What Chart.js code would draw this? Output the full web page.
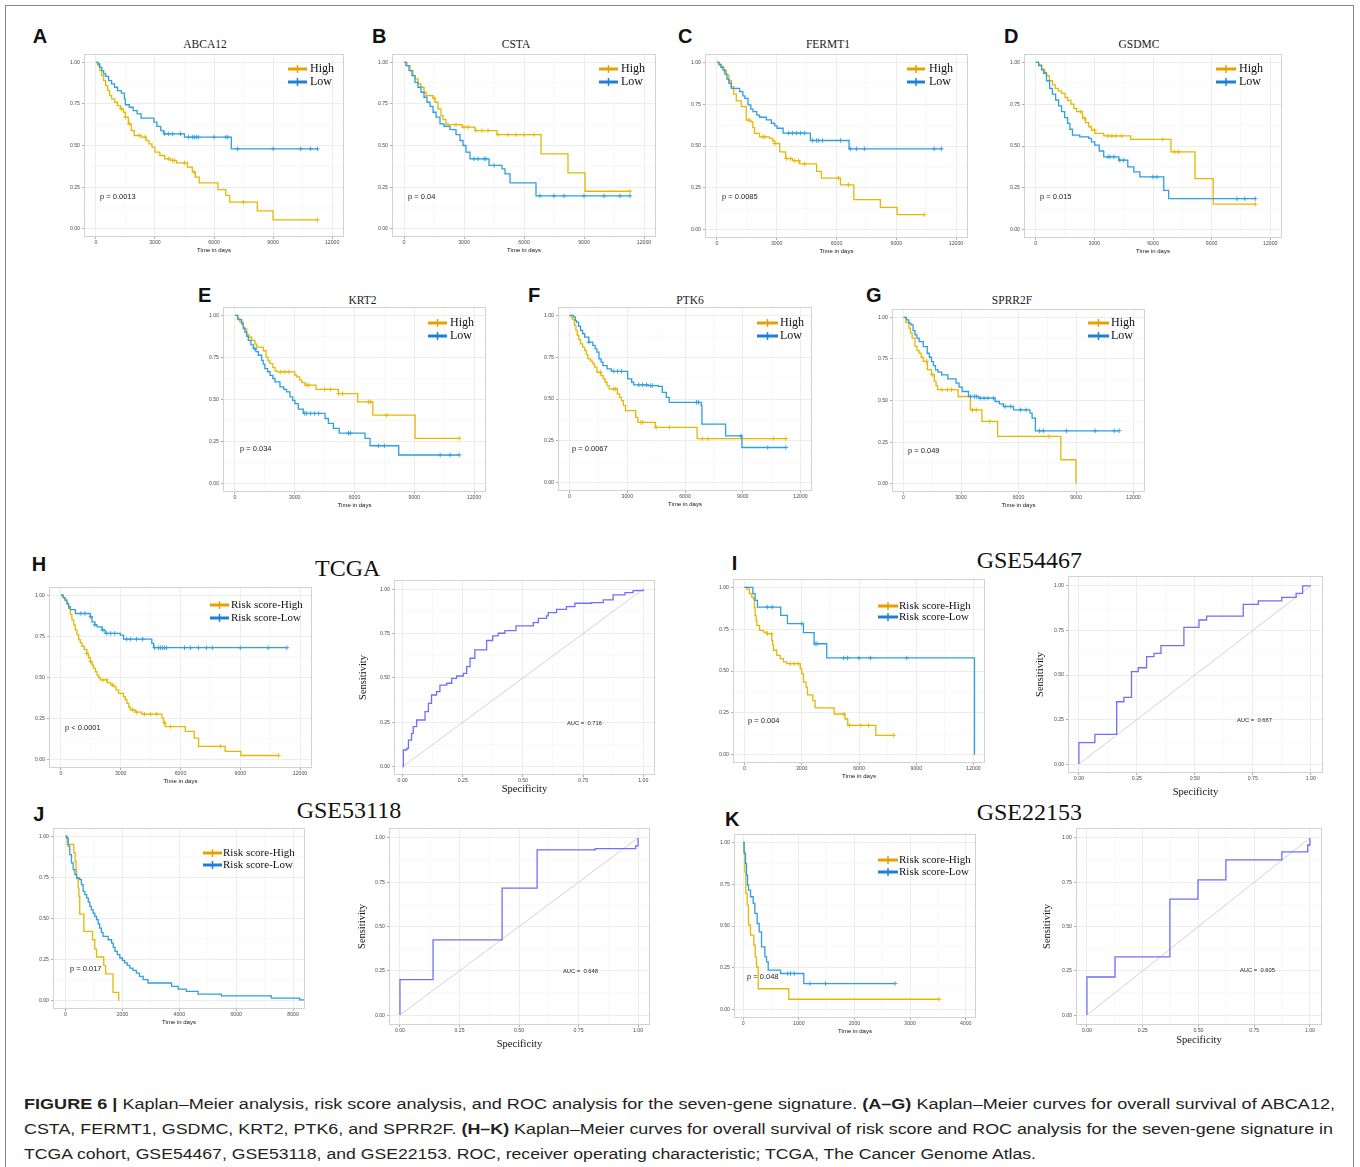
<!DOCTYPE html>
<html lang="en">
<head>
<meta charset="UTF-8">
<title>Figure 6 - Kaplan-Meier and ROC analysis</title>
<script src="https://cdn.jsdelivr.net/npm/chart.js"></script>
<style>
    body { margin: 0; background: #ffffff; }
    #fig { position: relative; width: 1360px; height: 1167px; overflow: hidden; background: #ffffff; }
    #fig canvas { position: absolute; }
    #labels { position: absolute; left: 0; top: 0; }
</style>
</head>
<body>
<div id="fig">
<svg id="labels" width="1360" height="1167" xmlns="http://www.w3.org/2000/svg">
    <rect x="5.5" y="5.5" width="1348" height="1175" fill="none" stroke="#8a8a8a" stroke-width="1"/>
    <g font-family="'Liberation Sans', Arial, sans-serif" font-weight="bold" font-size="20" fill="#111">
        <text x="32.7" y="42.7">A</text>
        <text x="372" y="42.7">B</text>
        <text x="678" y="42.7">C</text>
        <text x="1004" y="42.7">D</text>
        <text x="198" y="302">E</text>
        <text x="528" y="302">F</text>
        <text x="866" y="302">G</text>
        <text x="31.7" y="570.7">H</text>
        <text x="731.7" y="570">I</text>
        <text x="33.3" y="820.7">J</text>
        <text x="725" y="826">K</text>
    </g>
    <g font-family="'Liberation Serif', 'Times New Roman', serif" font-size="11.5" fill="#222" text-anchor="middle">
        <text x="205" y="48">ABCA12</text>
        <text x="516" y="48">CSTA</text>
        <text x="828" y="48">FERMT1</text>
        <text x="1139" y="48">GSDMC</text>
        <text x="362.5" y="304">KRT2</text>
        <text x="690" y="304">PTK6</text>
        <text x="1012" y="304">SPRR2F</text>
    </g>
    <g font-family="'Liberation Serif', 'Times New Roman', serif" font-size="24" fill="#111">
        <text x="315" y="576">TCGA</text>
        <text x="976.7" y="567.7">GSE54467</text>
        <text x="296.7" y="818.3">GSE53118</text>
        <text x="976.7" y="820">GSE22153</text>
    </g>
    <g font-family="'Liberation Sans', Arial, sans-serif" font-size="15.5" fill="#231f20">
        <text x="24" y="1108.5" textLength="1311" lengthAdjust="spacingAndGlyphs"><tspan font-weight="bold">FIGURE 6 |</tspan> Kaplan–Meier analysis, risk score analysis, and ROC analysis for the seven-gene signature. <tspan font-weight="bold">(A–G)</tspan> Kaplan–Meier curves for overall survival of ABCA12,</text>
        <text x="24" y="1133.5" textLength="1309" lengthAdjust="spacingAndGlyphs">CSTA, FERMT1, GSDMC, KRT2, PTK6, and SPRR2F. <tspan font-weight="bold">(H–K)</tspan> Kaplan–Meier curves for overall survival of risk score and ROC analysis for the seven-gene signature in</text>
        <text x="24" y="1158.5" textLength="1012" lengthAdjust="spacingAndGlyphs">TCGA cohort, GSE54467, GSE53118, and GSE22153. ROC, receiver operating characteristic; TCGA, The Cancer Genome Atlas.</text>
    </g>
</svg>
</div>

<script>
    // ---- tick labels and group names ----
    const kmTicks = [0, 3000, 6000, 9000, 12000];
    const kmTicksJ = [0, 2000, 4000, 6000, 8000];
    const kmTicksK = [0, 1000, 2000, 3000, 4000];
    const survTicks = [0, 0.25, 0.5, 0.75, 1];
    const rocTicks = [0, 0.25, 0.5, 0.75, 1];
    const geneGroups = ['High', 'Low'];
    const riskGroups = ['Risk score-High', 'Risk score-Low'];

    // ---- survival curves: [days, survival probability] ----
    const abca12High = [[0,1],[100,0.98],[200,0.95],[300,0.92],[400,0.89],[500,0.86],[600,0.83],[700,0.80],[800,0.78],[950,0.76],[1100,0.74],[1250,0.72],[1400,0.70],[1500,0.67],[1650,0.63],[1800,0.59],[1950,0.56],[2300,0.55],[2550,0.53],[2700,0.51],[2850,0.49],[3000,0.46],[3250,0.44],[3500,0.42],[3800,0.41],[4100,0.395],[4650,0.37],[4900,0.34],[5050,0.31],[5250,0.275],[6200,0.235],[6600,0.20],[6800,0.16],[8200,0.107],[9000,0.053],[11250,0.053]];
    const abca12Low = [[0,1],[100,0.99],[200,0.97],[300,0.95],[400,0.93],[500,0.915],[650,0.89],[800,0.87],[950,0.85],[1100,0.83],[1300,0.815],[1450,0.78],[1500,0.745],[1700,0.73],[1900,0.71],[2100,0.69],[2300,0.665],[2950,0.64],[3100,0.615],[3300,0.59],[3450,0.57],[4500,0.55],[6880,0.48],[11250,0.48]];
    const abca12HighCens = [1300,1500,1700,2200,2500,3700,3900,4000,4500,5000,7500,11250];
    const abca12LowCens = [3500,3700,3900,4300,4700,4900,5000,5100,5200,6000,6600,6700,7200,9000,10400,10900,11250];

    const cstaHigh = [[0,1],[150,0.98],[300,0.95],[450,0.92],[550,0.90],[700,0.87],[850,0.85],[1000,0.82],[1100,0.80],[1450,0.785],[1550,0.76],[1700,0.72],[1850,0.68],[1950,0.655],[2100,0.625],[2900,0.61],[3550,0.59],[4650,0.565],[6850,0.45],[8200,0.335],[9050,0.225],[11300,0.225]];
    const cstaLow = [[0,1],[100,0.98],[250,0.95],[400,0.92],[550,0.88],[700,0.85],[850,0.82],[1000,0.79],[1150,0.76],[1300,0.735],[1450,0.70],[1600,0.67],[1800,0.63],[2000,0.615],[2300,0.595],[2600,0.565],[2800,0.53],[2950,0.50],[3100,0.46],[3300,0.42],[4250,0.38],[4900,0.36],[5050,0.33],[5300,0.275],[6600,0.197],[11300,0.197]];
    const cstaHighCens = [1500,2200,2600,3000,3200,3600,3900,4200,4700,5200,5600,6000,6500,11300];
    const cstaLowCens = [3500,3700,4000,4100,4500,6800,7500,8000,9000,10000,10800,11300];

    const fermt1High = [[0,1],[100,0.99],[220,0.975],[350,0.95],[470,0.925],[600,0.89],[720,0.855],[840,0.81],[970,0.77],[1220,0.735],[1470,0.655],[1700,0.645],[1800,0.61],[1890,0.575],[2140,0.555],[2640,0.545],[2800,0.53],[2900,0.515],[3150,0.465],[3450,0.425],[3800,0.412],[4150,0.393],[5000,0.348],[5240,0.308],[6200,0.268],[6870,0.18],[8200,0.133],[9040,0.09],[10400,0.09]];
    const fermt1Low = [[0,1],[100,0.985],[200,0.97],[300,0.955],[400,0.93],[500,0.90],[600,0.875],[720,0.845],[1140,0.825],[1300,0.80],[1400,0.785],[1560,0.746],[1700,0.72],[1810,0.706],[2000,0.685],[2140,0.672],[2480,0.656],[2730,0.636],[2900,0.62],[3020,0.606],[3320,0.577],[4690,0.533],[6630,0.483],[11270,0.483]];
    const fermt1HighCens = [1600,2300,2400,2900,3500,3700,3900,4100,4400,6100,6600,10400];
    const fermt1LowCens = [3600,3800,4000,4200,4400,4800,5000,5100,5300,6200,6700,7000,7400,10900,11270];

    const gsdmcHigh = [[0,1],[150,0.985],[300,0.96],[450,0.94],[550,0.92],[700,0.89],[860,0.865],[1000,0.845],[1150,0.83],[1320,0.815],[1500,0.79],[1630,0.773],[1800,0.75],[1950,0.725],[2090,0.705],[2400,0.665],[2550,0.64],[2710,0.615],[2850,0.595],[3020,0.575],[3480,0.56],[4860,0.54],[6920,0.465],[8150,0.305],[9080,0.152],[11230,0.152]];
    const gsdmcLow = [[0,1],[150,0.98],[300,0.955],[400,0.935],[550,0.89],[710,0.845],[850,0.81],[1020,0.775],[1170,0.74],[1320,0.705],[1480,0.67],[1630,0.635],[1750,0.60],[1880,0.565],[2250,0.555],[2710,0.545],[2850,0.525],[3020,0.505],[3250,0.47],[3480,0.435],[4250,0.415],[4710,0.375],[5020,0.345],[5330,0.315],[6550,0.235],[6800,0.185],[11230,0.185]];
    const gsdmcHighCens = [2300,2500,3000,3700,3900,4100,4400,6500,7100,7300,11230];
    const gsdmcLowCens = [3700,3800,4000,4300,4500,6000,6200,10300,10700,11230];

    const krt2High = [[0,1],[120,0.98],[250,0.96],[420,0.92],[590,0.885],[700,0.87],[840,0.852],[1000,0.83],[1090,0.812],[1420,0.79],[1560,0.75],[1660,0.73],[1760,0.713],[1900,0.69],[2010,0.672],[2090,0.664],[3000,0.645],[3100,0.634],[3250,0.615],[3350,0.60],[3510,0.585],[4070,0.56],[5190,0.535],[6160,0.486],[6920,0.407],[9040,0.269],[11260,0.269]];
    const krt2Low = [[0,1],[150,0.975],[335,0.95],[420,0.925],[500,0.90],[590,0.875],[670,0.852],[800,0.825],[920,0.802],[1050,0.785],[1170,0.763],[1340,0.733],[1420,0.71],[1500,0.684],[1640,0.665],[1760,0.644],[1900,0.625],[2010,0.605],[2260,0.575],[2450,0.56],[2590,0.545],[2760,0.516],[2900,0.495],[3010,0.476],[3180,0.443],[3430,0.417],[4520,0.387],[4690,0.358],[4940,0.328],[5230,0.30],[6530,0.269],[6780,0.225],[8220,0.17],[11260,0.17]];
    const krt2HighCens = [2300,2500,2700,3600,3700,4500,4800,5200,5400,6700,6800,7600,11260];
    const krt2LowCens = [1000,3500,3600,3800,4000,4200,5700,5800,7200,7500,10300,10800,11260];

    const ptk6High = [[0,1],[80,0.99],[150,0.975],[255,0.94],[330,0.91],[400,0.88],[480,0.855],[570,0.83],[680,0.81],[785,0.79],[870,0.765],[955,0.74],[1100,0.725],[1210,0.71],[1300,0.69],[1420,0.66],[1635,0.64],[1750,0.62],[1850,0.60],[1950,0.58],[2060,0.56],[2485,0.53],[2600,0.51],[2700,0.49],[2800,0.46],[2910,0.43],[3440,0.39],[3550,0.36],[4460,0.33],[6630,0.263],[11240,0.263]];
    const ptk6Low = [[0,1],[210,0.99],[300,0.97],[360,0.96],[470,0.935],[570,0.91],[680,0.89],[785,0.87],[1000,0.84],[1210,0.82],[1330,0.80],[1420,0.78],[1530,0.74],[1640,0.72],[1740,0.70],[1950,0.68],[2170,0.665],[3020,0.62],[3230,0.60],[3335,0.585],[4080,0.58],[4610,0.575],[4820,0.54],[5030,0.51],[5180,0.48],[6840,0.46],[6880,0.35],[8110,0.28],[8960,0.21],[11240,0.21]];
    const ptk6HighCens = [1600,2300,2400,3700,3800,4500,5200,6900,7200,10600,11240];
    const ptk6LowCens = [1000,2300,2500,2700,3600,3800,4000,4200,4300,6600,6700,8900,10300,11240];

    const sprr2fHigh = [[0,1],[120,0.97],[280,0.935],[360,0.905],[450,0.875],[600,0.825],[700,0.80],[815,0.785],[920,0.76],[1030,0.735],[1240,0.685],[1460,0.655],[1610,0.615],[1700,0.59],[1780,0.565],[2850,0.524],[3490,0.444],[4090,0.374],[4910,0.284],[8210,0.144],[9000,0]];
    const sprr2fLow = [[0,1],[150,0.985],[280,0.965],[385,0.954],[500,0.92],[600,0.894],[700,0.875],[815,0.854],[1030,0.824],[1240,0.784],[1350,0.76],[1460,0.734],[1560,0.71],[1670,0.684],[1800,0.67],[1990,0.654],[2310,0.63],[2740,0.604],[2900,0.58],[3060,0.554],[3390,0.524],[3920,0.514],[4780,0.494],[5000,0.48],[5210,0.464],[5740,0.444],[6600,0.424],[6710,0.394],[6880,0.318],[11250,0.318]];
    const sprr2fHighCens = [1200,1500,2000,2300,2500,3600,3800,4500,7600];
    const sprr2fLowCens = [3500,3700,3800,4000,4200,4400,4700,5300,5600,6100,6400,7100,7300,8500,10000,11000,11250];

    const tcgaHigh = [[0,1],[120,0.985],[220,0.97],[300,0.945],[385,0.92],[470,0.885],[550,0.85],[640,0.82],[720,0.79],[800,0.76],[890,0.73],[970,0.71],[1050,0.69],[1170,0.67],[1300,0.646],[1380,0.62],[1470,0.596],[1560,0.575],[1640,0.556],[1730,0.535],[1810,0.515],[1890,0.50],[1970,0.485],[2310,0.469],[2500,0.455],[2640,0.444],[2760,0.425],[2890,0.404],[3140,0.384],[3230,0.365],[3310,0.343],[3400,0.32],[3480,0.303],[3730,0.289],[4060,0.277],[5070,0.253],[5150,0.225],[5230,0.202],[6240,0.172],[6690,0.131],[6910,0.081],[8240,0.051],[9030,0.026],[10920,0.026]];
    const tcgaLow = [[0,1],[100,0.985],[200,0.97],[300,0.95],[380,0.93],[470,0.913],[720,0.889],[1470,0.869],[1560,0.838],[1700,0.82],[1810,0.808],[2060,0.788],[2220,0.768],[2980,0.758],[3140,0.733],[4560,0.707],[4650,0.681],[11340,0.681]];
    const tcgaHighCens = [1300,1500,2100,2300,2600,3600,3800,4200,4500,4800,5200,5500,8000,10920];
    const tcgaLowCens = [1000,1200,1500,1700,2100,2300,2500,2700,3300,3500,3800,4100,4700,4900,5000,5100,5200,5300,6200,6500,6900,7300,7600,9000,10400,11340];

    const gse54467High = [[0,1],[120,0.99],[260,0.962],[385,0.942],[470,0.932],[520,0.88],[560,0.833],[610,0.80],[650,0.773],[790,0.743],[1000,0.733],[1170,0.723],[1430,0.683],[1480,0.655],[1520,0.624],[1690,0.594],[1870,0.574],[2040,0.554],[2220,0.544],[2920,0.514],[3000,0.484],[3090,0.434],[3230,0.404],[3300,0.357],[3580,0.323],[3700,0.28],[4700,0.243],[5270,0.213],[5410,0.175],[6880,0.115],[7810,0.115]];
    const gse54467Low = [[0,1],[440,0.962],[560,0.922],[680,0.882],[1900,0.833],[2250,0.783],[3090,0.729],[3650,0.663],[4310,0.578],[12050,0]];
    const gse54467HighCens = [1200,1400,2400,2600,2800,5200,5500,6100,6500,7810];
    const gse54467LowCens = [1200,1450,3000,3700,3800,5200,5400,6000,6600,8500];

    const gse53118High = [[0,1],[60,0.95],[290,0.90],[340,0.848],[370,0.80],[390,0.746],[445,0.685],[470,0.635],[500,0.527],[645,0.422],[950,0.371],[1030,0.314],[1090,0.266],[1345,0.213],[1410,0.164],[1670,0.051],[1870,0]];
    const gse53118Low = [[0,1],[35,0.99],[95,0.94],[150,0.888],[210,0.838],[270,0.797],[330,0.767],[390,0.746],[500,0.736],[560,0.706],[620,0.665],[680,0.645],[740,0.625],[800,0.60],[855,0.574],[910,0.553],[970,0.533],[1030,0.513],[1090,0.493],[1150,0.467],[1200,0.442],[1260,0.416],[1320,0.391],[1500,0.371],[1620,0.35],[1680,0.325],[1740,0.30],[1820,0.28],[1910,0.26],[2000,0.245],[2080,0.23],[2170,0.215],[2260,0.199],[2370,0.185],[2490,0.168],[2600,0.148],[2730,0.128],[2900,0.108],[3730,0.087],[3960,0.071],[4250,0.057],[4660,0.041],[5480,0.03],[7240,0.016],[8230,0.006],[8410,0]];
    const gse53118HighCens = [];
    const gse53118LowCens = [];

    const gse22153High = [[0,1],[10,0.944],[30,0.824],[48,0.695],[72,0.625],[96,0.505],[132,0.445],[192,0.385],[216,0.315],[240,0.255],[270,0.125],[820,0.062],[3520,0.062]];
    const gse22153Low = [[0,1],[18,0.934],[42,0.874],[60,0.804],[78,0.745],[96,0.715],[132,0.675],[180,0.635],[210,0.575],[252,0.515],[288,0.465],[330,0.375],[390,0.315],[420,0.285],[450,0.236],[672,0.216],[1090,0.156],[2730,0.156]];
    const gse22153HighCens = [3520];
    const gse22153LowCens = [800,850,920,1200,1480,2730];

    // ---- ROC curves: [specificity axis value, sensitivity] ----
    const tcgaRoc = [[0,0],[0.003,0.094],[0.017,0.103],[0.024,0.15],[0.037,0.188],[0.044,0.226],[0.058,0.263],[0.083,0.263],[0.093,0.31],[0.107,0.357],[0.12,0.404],[0.141,0.423],[0.155,0.46],[0.183,0.47],[0.204,0.498],[0.224,0.511],[0.252,0.526],[0.266,0.564],[0.28,0.611],[0.30,0.658],[0.345,0.658],[0.349,0.711],[0.37,0.711],[0.374,0.737],[0.397,0.752],[0.425,0.767],[0.467,0.767],[0.471,0.793],[0.529,0.793],[0.543,0.812],[0.564,0.836],[0.598,0.85],[0.605,0.868],[0.64,0.887],[0.681,0.902],[0.716,0.921],[0.785,0.925],[0.834,0.94],[0.875,0.968],[0.924,0.981],[0.958,0.992],[1,1]];
    const gse54467Roc = [[0,0],[0,0.12],[0.069,0.167],[0.163,0.35],[0.194,0.375],[0.227,0.519],[0.256,0.541],[0.292,0.603],[0.324,0.622],[0.354,0.665],[0.453,0.768],[0.518,0.809],[0.551,0.831],[0.709,0.897],[0.774,0.916],[0.875,0.936],[0.937,0.959],[0.965,1],[1,1]];
    const gse53118Roc = [[0,0],[0,0.2],[0.139,0.424],[0.429,0.717],[0.576,0.932],[0.82,0.94],[0.99,0.955],[1,1]];
    const gse22153Roc = [[0,0],[0,0.215],[0.126,0.328],[0.372,0.655],[0.498,0.763],[0.623,0.876],[0.874,0.921],[0.99,0.96],[1,1]];

    const SANS = "'Liberation Sans', Arial, sans-serif";
    const SERIF = "'Liberation Serif', 'Times New Roman', serif";
    const HIGH_COL = '#E7B800', LOW_COL = '#2E9FDF';
    const HIGH_KEY = '#E5A100', LOW_KEY = '#1F7FD6';
    const fig = document.getElementById('fig');

    const kmPanels = [
        { box: [84, 54, 344, 237], xr: [-600, 12600], ticks: kmTicks, high: abca12High, low: abca12Low, highCens: abca12HighCens, lowCens: abca12LowCens, labels: geneGroups, p: 'p = 0.0013', pAt: [100, 197], leg: [288, 307, 310, 69, 82], legSize: 12 },
        { box: [392, 54, 656, 237], xr: [-600, 12600], ticks: kmTicks, high: cstaHigh, low: cstaLow, highCens: cstaHighCens, lowCens: cstaLowCens, labels: geneGroups, p: 'p = 0.04', pAt: [408, 197], leg: [599, 618, 621, 69, 82], legSize: 12 },
        { box: [705, 54, 968, 238], xr: [-600, 12600], ticks: kmTicks, high: fermt1High, low: fermt1Low, highCens: fermt1HighCens, lowCens: fermt1LowCens, labels: geneGroups, p: 'p = 0.0085', pAt: [722, 197], leg: [907, 925, 929, 69, 82], legSize: 12 },
        { box: [1024, 54, 1282, 238], xr: [-600, 12600], ticks: kmTicks, high: gsdmcHigh, low: gsdmcLow, highCens: gsdmcHighCens, lowCens: gsdmcLowCens, labels: geneGroups, p: 'p = 0.015', pAt: [1040, 197], leg: [1216, 1236, 1239, 69, 82], legSize: 12 },
        { box: [223, 307, 486, 492], xr: [-600, 12600], ticks: kmTicks, high: krt2High, low: krt2Low, highCens: krt2HighCens, lowCens: krt2LowCens, labels: geneGroups, p: 'p = 0.034', pAt: [240, 449], leg: [428, 447, 450, 323, 336], legSize: 12 },
        { box: [558, 307, 812, 491], xr: [-600, 12600], ticks: kmTicks, high: ptk6High, low: ptk6Low, highCens: ptk6HighCens, lowCens: ptk6LowCens, labels: geneGroups, p: 'p = 0.0067', pAt: [572, 449], leg: [757, 778, 780, 323, 336], legSize: 12 },
        { box: [892, 309, 1145, 492], xr: [-600, 12600], ticks: kmTicks, high: sprr2fHigh, low: sprr2fLow, highCens: sprr2fHighCens, lowCens: sprr2fLowCens, labels: geneGroups, p: 'p = 0.049', pAt: [908, 451], leg: [1088, 1109, 1111, 323, 336], legSize: 12 },
        { box: [49, 587, 312, 768], xr: [-600, 12600], ticks: kmTicks, high: tcgaHigh, low: tcgaLow, highCens: tcgaHighCens, lowCens: tcgaLowCens, labels: riskGroups, p: 'p < 0.0001', pAt: [65, 728], leg: [210, 229, 231, 605, 618], legSize: 11 },
        { box: [733, 579, 985, 763], xr: [-600, 12600], ticks: kmTicks, high: gse54467High, low: gse54467Low, highCens: gse54467HighCens, lowCens: gse54467LowCens, labels: riskGroups, p: 'p = 0.004', pAt: [748, 721], leg: [878, 898, 899, 606, 617], legSize: 11 },
        { box: [53, 828, 305, 1009], xr: [-440, 8420], ticks: kmTicksJ, high: gse53118High, low: gse53118Low, highCens: gse53118HighCens, lowCens: gse53118LowCens, labels: riskGroups, p: 'p = 0.017', pAt: [70, 969], leg: [203, 222, 223, 853, 865], legSize: 11 },
        { box: [734, 834, 976, 1018], xr: [-165, 4185], ticks: kmTicksK, high: gse22153High, low: gse22153Low, highCens: gse22153HighCens, lowCens: gse22153LowCens, labels: riskGroups, p: 'p = 0.048', pAt: [747, 977], leg: [878, 898, 899, 860, 872], legSize: 11 }
    ];

    const rocPanels = [
        { box: [394, 580, 655, 775], xr: [-0.036, 1.049], yr: [-0.047, 1.052], yW: 37, xH: 21, data: tcgaRoc, auc: 'AUC =  0.716', aucAt: [567, 723] },
        { box: [1068, 576, 1323, 773], xr: [-0.047, 1.053], yr: [-0.05, 1.056], yW: 34, xH: 26, data: gse54467Roc, auc: 'AUC =  0.667', aucAt: [1237, 720] },
        { box: [389, 828, 650, 1025], xr: [-0.046, 1.05], yr: [-0.056, 1.056], yW: 33, xH: 26, data: gse53118Roc, auc: 'AUC =  0.648', aucAt: [563, 971] },
        { box: [1076, 828, 1322, 1025], xr: [-0.049, 1.054], yr: [-0.056, 1.056], yW: 35, xH: 22, data: gse22153Roc, auc: 'AUC =  0.605', aucAt: [1240, 970] }
    ];

    // survival value of a step curve at time t (for censor marks)
    function survAt(pts, t) {
        let s = pts[0][1];
        for (const [x, y] of pts) {
            if (x <= t) s = y; else break;
        }
        return s;
    }

    function addCanvas(left, top, w, h) {
        const c = document.createElement('canvas');
        c.width = w; c.height = h;
        c.style.left = left + 'px';
        c.style.top = top + 'px';
        c.style.width = w + 'px';
        c.style.height = h + 'px';
        fig.appendChild(c);
        return c;
    }

    function axis(min, max, ticks, fmt, opts) {
        const a = {
            type: 'linear', min: min, max: max,
            afterBuildTicks: s => { s.ticks = ticks.map(v => ({ value: v })); },
            ticks: { callback: fmt, font: { family: SANS, size: 5.2 }, color: '#4d4d4d', padding: opts.height ? 0 : 2, maxRotation: 0, autoSkip: false },
            grid: { color: '#e9e9e9', lineWidth: 0.8, tickLength: 2, tickColor: '#9a9a9a' },
            border: { display: false }
        };
        if (opts.height) a.afterFit = s => { s.height = opts.height; };
        if (opts.width) a.afterFit = s => { s.width = opts.width; };
        if (opts.title) {
            a.title = { display: true, text: opts.title, color: '#111', padding: 0,
                font: { family: opts.titleFont || SANS, size: opts.titleSize || 6 } };
        }
        return a;
    }

    function mids(ticks) {
        const v = ticks.map(t => t.value);
        return v.slice(1).map((x, i) => (x + v[i]) / 2);
    }

    // minor grid, panel border, legend and in-panel texts
    function decor(off, p) {
        return {
            id: 'decor',
            beforeDatasetsDraw(chart) {
                const { ctx, chartArea: a, scales: { x, y } } = chart;
                ctx.save();
                ctx.strokeStyle = '#f3f3f3';
                ctx.lineWidth = 0.6;
                ctx.beginPath();
                mids(x.ticks).forEach(v => {
                    const px = x.getPixelForValue(v);
                    ctx.moveTo(px, a.top); ctx.lineTo(px, a.bottom);
                });
                mids(y.ticks).forEach(v => {
                    const py = y.getPixelForValue(v);
                    ctx.moveTo(a.left, py); ctx.lineTo(a.right, py);
                });
                ctx.stroke();
                ctx.restore();
            },
            afterDatasetsDraw(chart) {
                const { ctx, chartArea: a } = chart;
                ctx.save();
                ctx.strokeStyle = '#d2d2d2';
                ctx.lineWidth = 1;
                ctx.strokeRect(a.left + 0.5, a.top + 0.5, a.right - a.left - 1, a.bottom - a.top - 1);

                if (p.leg) {
                    const [x1, x2, tx, yh, yl] = p.leg;
                    [[yh, HIGH_KEY, p.labels[0]], [yl, LOW_KEY, p.labels[1]]].forEach(([yy, col, txt]) => {
                        const Y = yy - off[1];
                        const mx = (x1 + x2) / 2 - off[0];
                        ctx.strokeStyle = col;
                        ctx.lineWidth = 3;
                        ctx.beginPath();
                        ctx.moveTo(x1 - off[0], Y); ctx.lineTo(x2 - off[0], Y);
                        ctx.stroke();
                        ctx.lineWidth = 1.5;
                        ctx.beginPath();
                        ctx.moveTo(mx, Y - 4); ctx.lineTo(mx, Y + 4);
                        ctx.stroke();
                        ctx.fillStyle = '#111';
                        ctx.font = p.legSize + 'px ' + SERIF;
                        ctx.textBaseline = 'middle';
                        ctx.textAlign = 'left';
                        ctx.fillText(txt, tx - off[0], Y);
                    });
                }
                if (p.p) {
                    ctx.fillStyle = '#222';
                    ctx.font = '7.5px ' + SANS;
                    ctx.textBaseline = 'middle';
                    ctx.textAlign = 'left';
                    ctx.fillText(p.p, p.pAt[0] - off[0], p.pAt[1] - off[1]);
                }
                if (p.auc) {
                    ctx.fillStyle = '#222';
                    ctx.font = '5.8px ' + SANS;
                    ctx.textBaseline = 'middle';
                    ctx.textAlign = 'left';
                    ctx.fillText(p.auc, p.aucAt[0] - off[0], p.aucAt[1] - off[1]);
                }
                ctx.restore();
            }
        };
    }

    function baseOptions(pad) {
        return {
            responsive: false,
            animation: false,
            events: [],
            layout: { padding: { top: pad, right: pad, left: 0, bottom: 0 } },
            plugins: { legend: { display: false }, tooltip: { enabled: false } }
        };
    }

    function kmChart(p) {
        const yW = 26, xH = 17, pad = 8;
        const [l, t, r, b] = p.box;
        const off = [l - yW, t - pad];
        const cv = addCanvas(off[0], off[1], yW + (r - l) + pad, pad + (b - t) + xH);
        const datasets = [];
        // low group first so it is painted on top
        [[p.low, p.lowCens, LOW_COL], [p.high, p.highCens, HIGH_COL]].forEach(([pts, cens, col]) => {
            datasets.push({
                data: pts.map(([x, y]) => ({ x, y })),
                borderColor: col, borderWidth: 1.3, stepped: true, pointRadius: 0, fill: false
            });
            datasets.push({
                data: cens.map(x => ({ x, y: survAt(pts, x) })),
                showLine: false, pointStyle: 'cross', pointRadius: 2.3,
                pointBorderColor: col, pointBorderWidth: 0.9, borderColor: col
            });
        });
        const options = baseOptions(pad);
        options.scales = {
            x: axis(p.xr[0], p.xr[1], p.ticks, v => String(v), { height: xH, title: 'Time in days', titleSize: 6 }),
            y: axis(-0.05, 1.05, survTicks, v => v.toFixed(2), { width: yW })
        };
        new Chart(cv, { type: 'line', data: { datasets }, options, plugins: [decor(off, p)] });
    }

    function rocChart(p) {
        const pad = 8;
        const [l, t, r, b] = p.box;
        const off = [l - p.yW, t - pad];
        const cv = addCanvas(off[0], off[1], p.yW + (r - l) + pad, pad + (b - t) + p.xH);
        const datasets = [
            { data: p.data.map(([x, y]) => ({ x, y })), borderColor: '#6f6fff', borderWidth: 1.3, stepped: true, pointRadius: 0, fill: false },
            { data: [{ x: 0, y: 0 }, { x: 1, y: 1 }], borderColor: '#cdcdcd', borderWidth: 0.9, pointRadius: 0, fill: false }
        ];
        const options = baseOptions(pad);
        options.scales = {
            x: axis(p.xr[0], p.xr[1], rocTicks, v => v.toFixed(2), { height: p.xH, title: 'Specificity', titleSize: 10.5, titleFont: SERIF }),
            y: axis(p.yr[0], p.yr[1], rocTicks, v => v.toFixed(2), { width: p.yW, title: 'Sensitivity', titleSize: 10.5, titleFont: SERIF })
        };
        new Chart(cv, { type: 'line', data: { datasets }, options, plugins: [decor(off, p)] });
    }

    kmPanels.forEach(kmChart);
    rocPanels.forEach(rocChart);
</script>
</body>
</html>
